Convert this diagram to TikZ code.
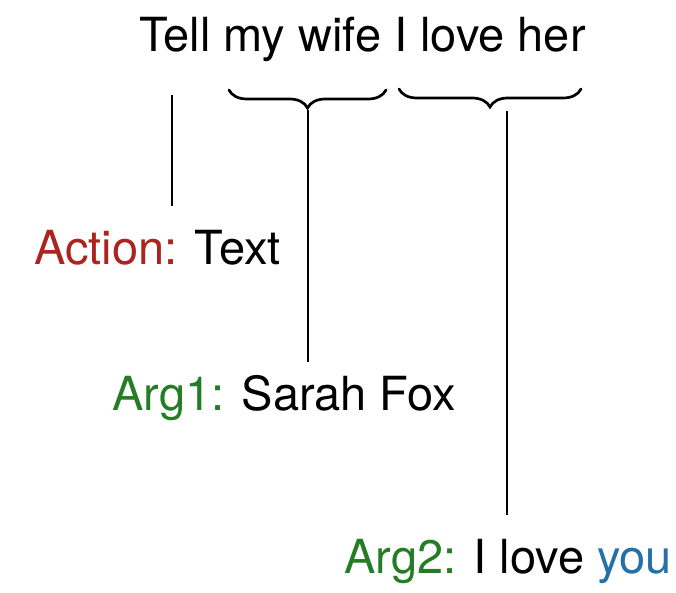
\documentclass[tikz,border=0pt]{standalone}
\usepackage{fontspec}
\setmainfont{TeX Gyre Heros}
\usetikzlibrary{decorations.pathreplacing}
\definecolor{actred}{RGB}{172,36,30}
\definecolor{arggreen}{RGB}{36,124,36}
\definecolor{youblue}{RGB}{36,112,168}
\tikzset{
  label/.style={anchor=base west, inner sep=0pt, font=\fontsize{47}{53}\selectfont},
  link/.style={line width=2.5pt},
  span/.style={line width=2.7pt, line cap=round, decorate, decoration={brace, mirror, amplitude=18pt}}
}
\begin{document}
\begin{tikzpicture}[x=1pt, y=-1pt]
  \useasboundingbox (0,0) rectangle (676,593);

  % sentence and the three annotations
  \node[label] (sent) at (139,52) {Tell my wife I love her};
  \node[label] (act) at (34,265) {\textcolor{actred}{Action:} Text};
  \node[label] (arg1) at (112,410) {\textcolor{arggreen}{Arg1:} Sarah Fox};
  \node[label] (arg2) at (344,573) {\textcolor{arggreen}{Arg2:} I love \textcolor{youblue}{you}};

  % spans of the two arguments
  \coordinate (b1l) at (229,90);
  \coordinate (b1r) at (386,90);
  \coordinate (b2l) at (399,89);
  \coordinate (b2r) at (581,89);
  \draw[span] (b1l) -- (b1r);
  \draw[span] (b2l) -- (b2r);

  % connector end points
  \coordinate (l1t) at (172,95);
  \coordinate (l1b) at (172,206);
  \coordinate (l2t) at (308,110);
  \coordinate (l2b) at (308,362);
  \coordinate (l3t) at (507,111);
  \coordinate (l3b) at (507,515);
  \draw[link] (l1t) -- (l1b);
  \draw[link] (l2t) -- (l2b);
  \draw[link] (l3t) -- (l3b);
\end{tikzpicture}
\end{document}
